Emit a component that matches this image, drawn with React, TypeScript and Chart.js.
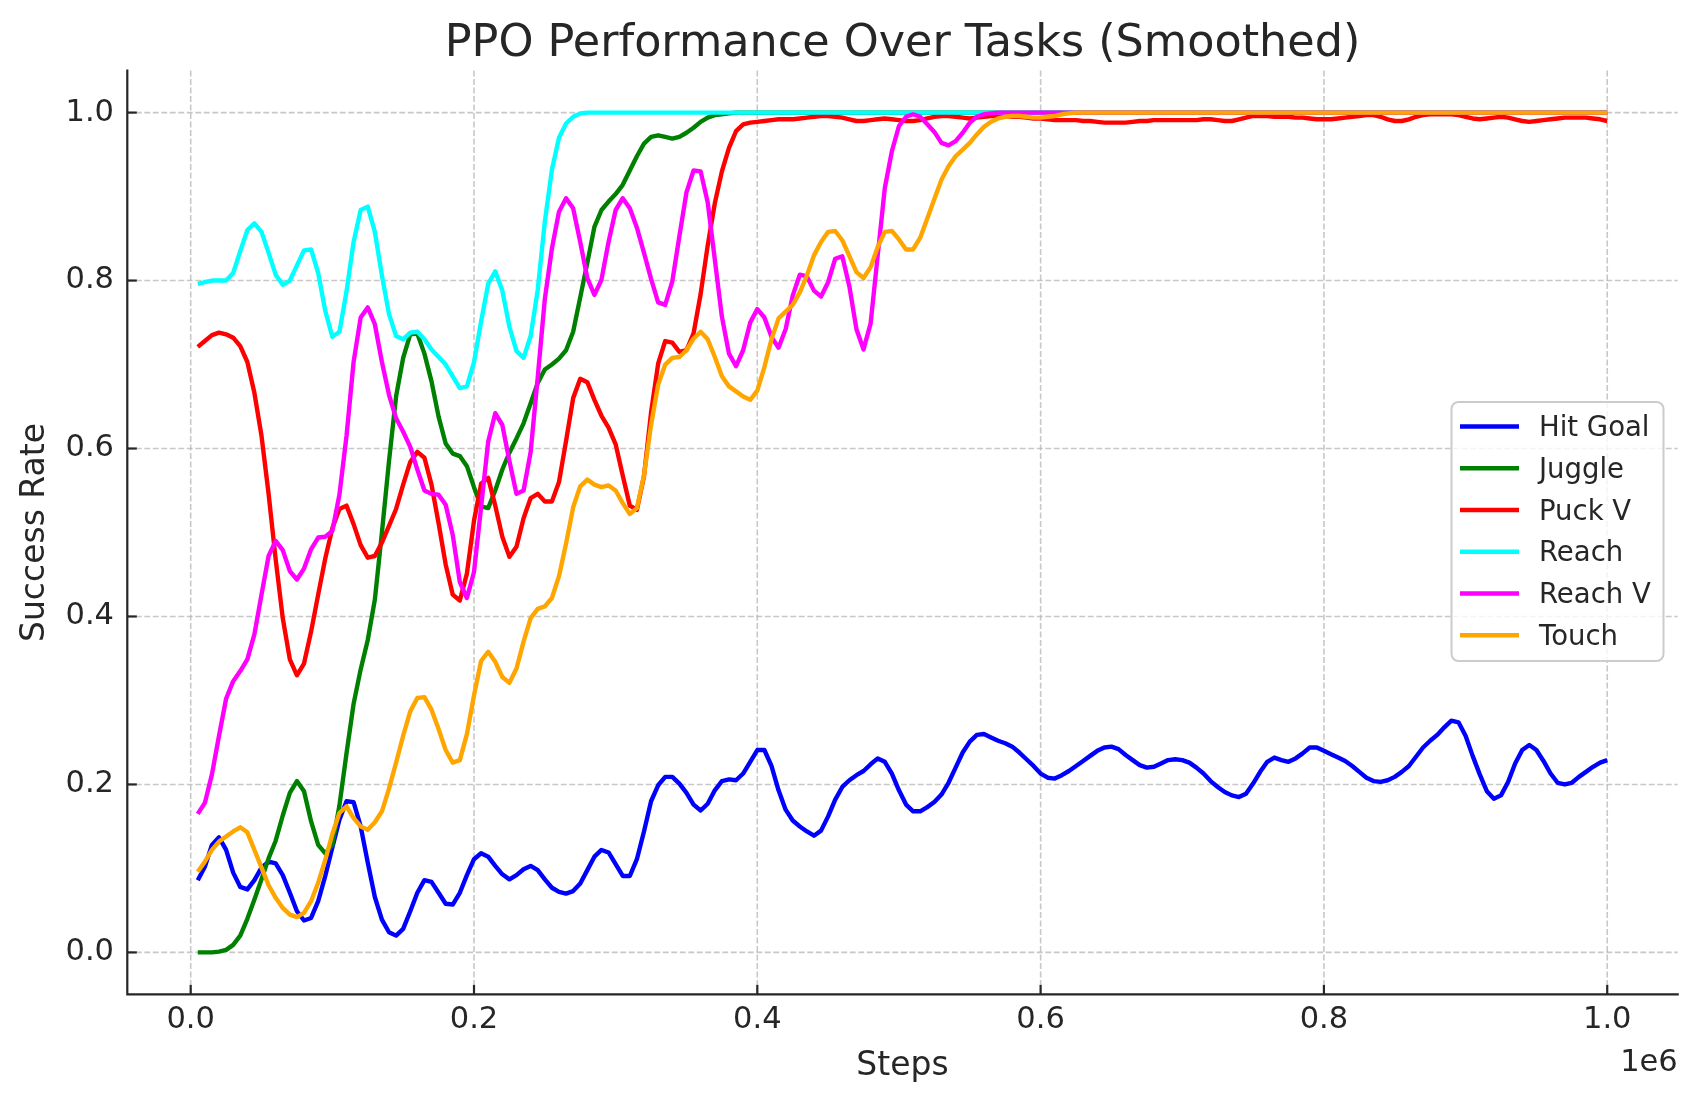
import React, { useEffect, useRef } from "react";
import { Chart, registerables } from "chart.js";

Chart.register(...registerables);

const TITLE = "PPO Performance Over Tasks (Smoothed)";
const X_LABEL = "Steps";
const Y_LABEL = "Success Rate";
const X_OFFSET_LABEL = "1e6";

const STEPS = [
  5000, 10000, 15000, 20000, 25000, 30000, 35000, 40000, 45000, 50000,
  55000, 60000, 65000, 70000, 75000, 80000, 85000, 90000, 95000, 100000,
  105000, 110000, 115000, 120000, 125000, 130000, 135000, 140000, 145000, 150000,
  155000, 160000, 165000, 170000, 175000, 180000, 185000, 190000, 195000, 200000,
  205000, 210000, 215000, 220000, 225000, 230000, 235000, 240000, 245000, 250000,
  255000, 260000, 265000, 270000, 275000, 280000, 285000, 290000, 295000, 300000,
  305000, 310000, 315000, 320000, 325000, 330000, 335000, 340000, 345000, 350000,
  355000, 360000, 365000, 370000, 375000, 380000, 385000, 390000, 395000, 400000,
  405000, 410000, 415000, 420000, 425000, 430000, 435000, 440000, 445000, 450000,
  455000, 460000, 465000, 470000, 475000, 480000, 485000, 490000, 495000, 500000,
  505000, 510000, 515000, 520000, 525000, 530000, 535000, 540000, 545000, 550000,
  555000, 560000, 565000, 570000, 575000, 580000, 585000, 590000, 595000, 600000,
  605000, 610000, 615000, 620000, 625000, 630000, 635000, 640000, 645000, 650000,
  655000, 660000, 665000, 670000, 675000, 680000, 685000, 690000, 695000, 700000,
  705000, 710000, 715000, 720000, 725000, 730000, 735000, 740000, 745000, 750000,
  755000, 760000, 765000, 770000, 775000, 780000, 785000, 790000, 795000, 800000,
  805000, 810000, 815000, 820000, 825000, 830000, 835000, 840000, 845000, 850000,
  855000, 860000, 865000, 870000, 875000, 880000, 885000, 890000, 895000, 900000,
  905000, 910000, 915000, 920000, 925000, 930000, 935000, 940000, 945000, 950000,
  955000, 960000, 965000, 970000, 975000, 980000, 985000, 990000, 995000, 1000000,
];

const HIT_GOAL = [
  0.086, 0.102, 0.128, 0.137, 0.122, 0.095, 0.078, 0.075, 0.086, 0.101,
  0.108, 0.106, 0.092, 0.071, 0.049, 0.038, 0.041, 0.061, 0.091, 0.125,
  0.158, 0.180, 0.179, 0.150, 0.107, 0.066, 0.039, 0.024, 0.020, 0.028,
  0.049, 0.071, 0.086, 0.084, 0.071, 0.058, 0.057, 0.071, 0.092, 0.111,
  0.118, 0.114, 0.103, 0.093, 0.087, 0.092, 0.099, 0.103, 0.098, 0.087,
  0.077, 0.072, 0.070, 0.073, 0.082, 0.098, 0.114, 0.122, 0.119, 0.105,
  0.091, 0.091, 0.111, 0.144, 0.180, 0.199, 0.209, 0.209, 0.201, 0.190,
  0.176, 0.169, 0.177, 0.193, 0.204, 0.206, 0.205, 0.213, 0.227, 0.241,
  0.241, 0.222, 0.193, 0.170, 0.157, 0.150, 0.144, 0.139, 0.145, 0.162,
  0.182, 0.197, 0.205, 0.211, 0.216, 0.224, 0.231, 0.227, 0.213, 0.193,
  0.176, 0.168, 0.168, 0.173, 0.179, 0.188, 0.202, 0.220, 0.238, 0.251,
  0.259, 0.260, 0.256, 0.252, 0.249, 0.245, 0.238, 0.230, 0.222, 0.213,
  0.208, 0.207, 0.211, 0.216, 0.222, 0.228, 0.234, 0.240, 0.244, 0.245,
  0.242, 0.235, 0.229, 0.223, 0.220, 0.221, 0.225, 0.229, 0.230, 0.229,
  0.226, 0.220, 0.213, 0.204, 0.197, 0.191, 0.187, 0.185, 0.189, 0.201,
  0.215, 0.227, 0.232, 0.229, 0.227, 0.231, 0.237, 0.244, 0.244, 0.240,
  0.236, 0.232, 0.228, 0.222, 0.215, 0.208, 0.204, 0.203, 0.205, 0.209,
  0.215, 0.222, 0.233, 0.244, 0.252, 0.259, 0.268, 0.276, 0.274, 0.258,
  0.234, 0.212, 0.192, 0.183, 0.187, 0.203, 0.225, 0.241, 0.247, 0.241,
  0.228, 0.213, 0.202, 0.200, 0.202, 0.209, 0.215, 0.221, 0.226, 0.229,
];

const JUGGLE = [
  0, 0, 0, 0.001, 0.003, 0.009, 0.020, 0.040, 0.063, 0.087,
  0.112, 0.133, 0.163, 0.190, 0.204, 0.192, 0.156, 0.128, 0.118, 0.128,
  0.175, 0.237, 0.296, 0.337, 0.372, 0.420, 0.500, 0.585, 0.662, 0.708,
  0.736, 0.737, 0.713, 0.680, 0.638, 0.606, 0.594, 0.591, 0.579, 0.554,
  0.531, 0.529, 0.550, 0.575, 0.595, 0.612, 0.630, 0.654, 0.678, 0.694,
  0.700, 0.707, 0.717, 0.739, 0.780, 0.821, 0.864, 0.884, 0.894, 0.903,
  0.914, 0.931, 0.948, 0.963, 0.971, 0.973, 0.971, 0.969, 0.971, 0.976,
  0.982, 0.989, 0.994, 0.997, 0.998, 0.999, 1, 1, 1, 1,
  1, 1, 1, 1, 1, 1, 1, 1, 1, 1,
  1, 1, 1, 1, 1, 1, 1, 1, 1, 1,
  1, 1, 1, 1, 1, 1, 1, 1, 1, 1,
  1, 1, 1, 1, 1, 1, 1, 1, 1, 1,
  1, 1, 1, 1, 1, 1, 1, 1, 1, 1,
  1, 1, 1, 1, 1, 1, 1, 1, 1, 1,
  1, 1, 1, 1, 1, 1, 1, 1, 1, 1,
  1, 1, 1, 1, 1, 1, 1, 1, 1, 1,
  1, 1, 1, 1, 1, 1, 1, 1, 1, 1,
  1, 1, 1, 1, 1, 1, 1, 1, 1, 1,
  1, 1, 1, 1, 1, 1, 1, 1, 1, 1,
  1, 1, 1, 1, 1, 1, 1, 1, 1, 1,
];

const PUCK_V = [
  0.721, 0.728, 0.735, 0.738, 0.736, 0.732, 0.722, 0.703, 0.666, 0.615,
  0.546, 0.468, 0.398, 0.349, 0.330, 0.344, 0.382, 0.426, 0.469, 0.505,
  0.528, 0.532, 0.510, 0.485, 0.470, 0.472, 0.488, 0.508, 0.528, 0.557,
  0.584, 0.596, 0.589, 0.557, 0.511, 0.462, 0.426, 0.419, 0.451, 0.514,
  0.558, 0.565, 0.532, 0.495, 0.471, 0.483, 0.517, 0.541, 0.546, 0.537,
  0.537, 0.560, 0.609, 0.660, 0.683, 0.679, 0.658, 0.639, 0.625, 0.605,
  0.568, 0.532, 0.527, 0.567, 0.643, 0.701, 0.728, 0.726, 0.715, 0.717,
  0.737, 0.784, 0.842, 0.892, 0.930, 0.958, 0.978, 0.986, 0.988, 0.989,
  0.990, 0.991, 0.992, 0.992, 0.992, 0.993, 0.994, 0.995, 0.996, 0.996,
  0.995, 0.994, 0.992, 0.990, 0.990, 0.991, 0.992, 0.993, 0.992, 0.991,
  0.990, 0.990, 0.991, 0.993, 0.995, 0.996, 0.996, 0.995, 0.994, 0.993,
  0.994, 0.995, 0.996, 0.996, 0.996, 0.995, 0.995, 0.994, 0.993, 0.993,
  0.992, 0.991, 0.991, 0.991, 0.991, 0.990, 0.990, 0.989, 0.988, 0.988,
  0.988, 0.988, 0.989, 0.990, 0.990, 0.991, 0.991, 0.991, 0.991, 0.991,
  0.991, 0.991, 0.992, 0.992, 0.991, 0.990, 0.990, 0.992, 0.994, 0.996,
  0.996, 0.996, 0.995, 0.995, 0.995, 0.994, 0.994, 0.993, 0.992, 0.992,
  0.992, 0.993, 0.994, 0.995, 0.996, 0.997, 0.997, 0.995, 0.992, 0.990,
  0.990, 0.992, 0.995, 0.997, 0.998, 0.998, 0.998, 0.998, 0.997, 0.995,
  0.993, 0.992, 0.993, 0.994, 0.995, 0.994, 0.992, 0.990, 0.989, 0.990,
  0.991, 0.992, 0.993, 0.994, 0.994, 0.994, 0.994, 0.993, 0.992, 0.990,
];

const REACH = [
  0.796, 0.798, 0.800, 0.800, 0.800, 0.809, 0.835, 0.860, 0.868, 0.858,
  0.833, 0.807, 0.795, 0.800, 0.818, 0.836, 0.837, 0.809, 0.764, 0.733,
  0.739, 0.787, 0.846, 0.884, 0.888, 0.858, 0.806, 0.760, 0.734, 0.730,
  0.738, 0.739, 0.730, 0.718, 0.709, 0.700, 0.686, 0.672, 0.674, 0.703,
  0.751, 0.796, 0.811, 0.788, 0.745, 0.716, 0.708, 0.734, 0.789, 0.870,
  0.932, 0.970, 0.987, 0.995, 0.999, 1, 1, 1, 1, 1,
  1, 1, 1, 1, 1, 1, 1, 1, 1, 1,
  1, 1, 1, 1, 1, 1, 1, 1, 1, 1,
  1, 1, 1, 1, 1, 1, 1, 1, 1, 1,
  1, 1, 1, 1, 1, 1, 1, 1, 1, 1,
  1, 1, 1, 1, 1, 1, 1, 1, 1, 1,
  1, 1, 1, 1, 1, 1, 1, 1, 1, 1,
  1, 1, 1, 1, 1, 1, 1, 1, 1, 1,
  1, 1, 1, 1, 1, 1, 1, 1, 1, 1,
  1, 1, 1, 1, 1, 1, 1, 1, 1, 1,
  1, 1, 1, 1, 1, 1, 1, 1, 1, 1,
  1, 1, 1, 1, 1, 1, 1, 1, 1, 1,
  1, 1, 1, 1, 1, 1, 1, 1, 1, 1,
  1, 1, 1, 1, 1, 1, 1, 1, 1, 1,
  1, 1, 1, 1, 1, 1, 1, 1, 1, 1,
];

const REACH_V = [
  0.165, 0.178, 0.212, 0.258, 0.302, 0.323, 0.335, 0.349, 0.379, 0.426,
  0.472, 0.490, 0.479, 0.454, 0.444, 0.457, 0.480, 0.494, 0.495, 0.502,
  0.545, 0.615, 0.703, 0.756, 0.768, 0.748, 0.703, 0.664, 0.636, 0.620,
  0.602, 0.575, 0.550, 0.546, 0.545, 0.533, 0.497, 0.441, 0.422, 0.453,
  0.530, 0.608, 0.642, 0.628, 0.585, 0.546, 0.550, 0.596, 0.685, 0.778,
  0.838, 0.882, 0.898, 0.886, 0.846, 0.803, 0.783, 0.801, 0.846, 0.884,
  0.898, 0.886, 0.863, 0.833, 0.802, 0.774, 0.771, 0.799, 0.853, 0.905,
  0.931, 0.930, 0.893, 0.825, 0.757, 0.713, 0.698, 0.717, 0.750, 0.766,
  0.756, 0.733, 0.720, 0.742, 0.782, 0.807, 0.805, 0.788, 0.781, 0.798,
  0.826, 0.829, 0.793, 0.742, 0.718, 0.749, 0.830, 0.910, 0.954, 0.984,
  0.995, 0.998, 0.995, 0.986, 0.977, 0.964, 0.961, 0.966, 0.976, 0.988,
  0.995, 0.998, 0.999, 1, 1, 1, 1, 1, 1, 1,
  1, 1, 1, 1, 1, 1, 1, 1, 1, 1,
  1, 1, 1, 1, 1, 1, 1, 1, 1, 1,
  1, 1, 1, 1, 1, 1, 1, 1, 1, 1,
  1, 1, 1, 1, 1, 1, 1, 1, 1, 1,
  1, 1, 1, 1, 1, 1, 1, 1, 1, 1,
  1, 1, 1, 1, 1, 1, 1, 1, 1, 1,
  1, 1, 1, 1, 1, 1, 1, 1, 1, 1,
  1, 1, 1, 1, 1, 1, 1, 1, 1, 1,
];

const TOUCH = [
  0.096, 0.108, 0.122, 0.132, 0.138, 0.144, 0.149, 0.143, 0.122, 0.101,
  0.080, 0.065, 0.053, 0.045, 0.042, 0.047, 0.061, 0.083, 0.110, 0.141,
  0.166, 0.174, 0.160, 0.150, 0.146, 0.155, 0.168, 0.195, 0.226, 0.258,
  0.287, 0.303, 0.304, 0.289, 0.266, 0.241, 0.226, 0.229, 0.260, 0.306,
  0.347, 0.358, 0.346, 0.328, 0.321, 0.338, 0.370, 0.398, 0.409, 0.412,
  0.422, 0.448, 0.487, 0.530, 0.555, 0.563, 0.557, 0.554, 0.556, 0.550,
  0.535, 0.522, 0.529, 0.568, 0.628, 0.676, 0.700, 0.708, 0.709, 0.717,
  0.731, 0.739, 0.730, 0.709, 0.686, 0.674, 0.668, 0.662, 0.658, 0.669,
  0.697, 0.730, 0.755, 0.763, 0.771, 0.786, 0.806, 0.830, 0.846, 0.858,
  0.859, 0.848, 0.829, 0.810, 0.803, 0.816, 0.840, 0.858, 0.859, 0.849,
  0.837, 0.837, 0.851, 0.874, 0.897, 0.920, 0.936, 0.948, 0.956, 0.964,
  0.974, 0.983, 0.989, 0.993, 0.995, 0.996, 0.996, 0.995, 0.994, 0.994,
  0.995, 0.996, 0.998, 0.999, 1, 1, 1, 1, 1, 1,
  1, 1, 1, 1, 1, 1, 1, 1, 1, 1,
  1, 1, 1, 1, 1, 1, 1, 1, 1, 1,
  1, 1, 1, 1, 1, 1, 1, 1, 1, 1,
  1, 1, 1, 1, 1, 1, 1, 1, 1, 1,
  1, 1, 1, 1, 1, 1, 1, 1, 1, 1,
  1, 1, 1, 1, 1, 1, 1, 1, 1, 1,
  1, 1, 1, 1, 1, 1, 1, 1, 1, 1,
];

const SERIES_LABELS = ["Hit Goal", "Juggle", "Puck V", "Reach", "Reach V", "Touch"];
const SERIES_VALUES = [HIT_GOAL, JUGGLE, PUCK_V, REACH, REACH_V, TOUCH];
const SERIES_COLORS = ["#0000ff", "#008000", "#ff0000", "#00ffff", "#ff00ff", "#ffa500"];

const X_TICKS = [0, 200000, 400000, 600000, 800000, 1000000];
const Y_TICKS = [0, 0.2, 0.4, 0.6, 0.8, 1.0];

const FONT = '"DejaVu Sans", "Liberation Sans", sans-serif';
const TEXT_COLOR = "#262626";
const LINE_WIDTH = 4.4;

const decorPlugin = {
  id: "decor",
  beforeDatasetsDraw(chart: any) {
    const { ctx, chartArea, scales } = chart;
    ctx.save();
    ctx.strokeStyle = "rgba(176,176,176,0.7)";
    ctx.lineWidth = 1.6;
    ctx.setLineDash([5.9, 2.6]);
    X_TICKS.forEach((v) => {
      const px = scales.x.getPixelForValue(v);
      ctx.beginPath();
      ctx.moveTo(px, chartArea.top);
      ctx.lineTo(px, chartArea.bottom);
      ctx.stroke();
    });
    Y_TICKS.forEach((v) => {
      const py = scales.y.getPixelForValue(v);
      ctx.beginPath();
      ctx.moveTo(chartArea.left, py);
      ctx.lineTo(chartArea.right, py);
      ctx.stroke();
    });
    ctx.restore();
  },
  afterDraw(chart: any) {
    const { ctx, chartArea, scales } = chart;
    ctx.save();
    // spines
    ctx.strokeStyle = TEXT_COLOR;
    ctx.lineWidth = 2.2;
    ctx.lineCap = "square";
    ctx.beginPath();
    ctx.moveTo(chartArea.left, chartArea.top);
    ctx.lineTo(chartArea.left, chartArea.bottom);
    ctx.lineTo(chartArea.right, chartArea.bottom);
    ctx.stroke();
    // inward ticks
    ctx.lineCap = "butt";
    ctx.lineWidth = 2.2;
    X_TICKS.forEach((v) => {
      const px = scales.x.getPixelForValue(v);
      ctx.beginPath();
      ctx.moveTo(px, chartArea.bottom);
      ctx.lineTo(px, chartArea.bottom - 9.5);
      ctx.stroke();
    });
    Y_TICKS.forEach((v) => {
      const py = scales.y.getPixelForValue(v);
      ctx.beginPath();
      ctx.moveTo(chartArea.left, py);
      ctx.lineTo(chartArea.left + 9.5, py);
      ctx.stroke();
    });
    // title
    ctx.fillStyle = TEXT_COLOR;
    ctx.textAlign = "center";
    ctx.textBaseline = "middle";
    ctx.font = `44.5px ${FONT}`;
    ctx.fillText(TITLE, (chartArea.left + chartArea.right) / 2, 44.5);
    // offset label
    ctx.font = `30.5px ${FONT}`;
    ctx.textAlign = "right";
    ctx.fillText(X_OFFSET_LABEL, chartArea.right, 1063.5);
    // legend
    const bx = 1451.5, by = 402, bw = 212, bh = 259, r = 7;
    ctx.beginPath();
    ctx.moveTo(bx + r, by);
    ctx.lineTo(bx + bw - r, by);
    ctx.arcTo(bx + bw, by, bx + bw, by + r, r);
    ctx.lineTo(bx + bw, by + bh - r);
    ctx.arcTo(bx + bw, by + bh, bx + bw - r, by + bh, r);
    ctx.lineTo(bx + r, by + bh);
    ctx.arcTo(bx, by + bh, bx, by + bh - r, r);
    ctx.lineTo(bx, by + r);
    ctx.arcTo(bx, by, bx + r, by, r);
    ctx.closePath();
    ctx.fillStyle = "rgba(255,255,255,0.8)";
    ctx.fill();
    ctx.strokeStyle = "#cccccc";
    ctx.lineWidth = 2;
    ctx.stroke();
    ctx.font = `27.5px ${FONT}`;
    ctx.textAlign = "left";
    ctx.textBaseline = "middle";
    SERIES_LABELS.forEach((label, i) => {
      const y = 426.5 + i * 41.75;
      ctx.strokeStyle = SERIES_COLORS[i];
      ctx.lineWidth = LINE_WIDTH;
      ctx.beginPath();
      ctx.moveTo(1460, y);
      ctx.lineTo(1519, y);
      ctx.stroke();
      ctx.fillStyle = TEXT_COLOR;
      ctx.fillText(label, 1539, y + 2.5);
    });
    ctx.restore();
  },
};

export default function App() {
  const canvasRef = useRef<HTMLCanvasElement | null>(null);

  useEffect(() => {
    document.body.style.margin = "0";
    const canvas = canvasRef.current;
    if (!canvas) return;
    const datasets = SERIES_LABELS.map((label, i) => ({
      label,
      data: STEPS.map((s, j) => ({ x: s, y: SERIES_VALUES[i][j] })),
      borderColor: SERIES_COLORS[i],
      backgroundColor: SERIES_COLORS[i],
      borderWidth: LINE_WIDTH,
      pointRadius: 0,
      pointHoverRadius: 0,
      tension: 0,
      fill: false,
      borderJoinStyle: "round" as const,
      borderCapStyle: "butt" as const,
      order: SERIES_LABELS.length - 1 - i,
    }));

    const chart = new Chart(canvas, {
      type: "line",
      data: { datasets },
      plugins: [decorPlugin],
      options: {
        animation: false,
        responsive: false,
        maintainAspectRatio: false,
        events: [],
        layout: { padding: { top: 70.6, right: 19.3, bottom: 0, left: 0 } },
        plugins: {
          legend: { display: false },
          title: { display: false },
          tooltip: { enabled: false },
        },
        scales: {
          x: {
            type: "linear",
            min: -44750,
            max: 1049750,
            afterBuildTicks: (scale: any) => {
              scale.ticks = X_TICKS.map((v) => ({ value: v }));
            },
            afterFit: (scale: any) => {
              scale.height = 106.6;
            },
            grid: { display: false, drawTicks: false },
            border: { display: false },
            ticks: {
              autoSkip: false,
              maxRotation: 0,
              padding: 7.6,
              color: TEXT_COLOR,
              font: { family: FONT, size: 30.5, lineHeight: 1.2 },
              callback: (v: any) => (Number(v) / 1e6).toFixed(1),
            },
            title: {
              display: true,
              text: X_LABEL,
              color: TEXT_COLOR,
              font: { family: FONT, size: 33, lineHeight: 1.2 },
              padding: { top: 0, bottom: 15.2 },
            },
          },
          y: {
            type: "linear",
            min: -0.05,
            max: 1.05,
            afterBuildTicks: (scale: any) => {
              scale.ticks = Y_TICKS.map((v) => ({ value: v }));
            },
            afterFit: (scale: any) => {
              scale.width = 127.3;
            },
            grid: { display: false, drawTicks: false },
            border: { display: false },
            ticks: {
              autoSkip: false,
              padding: 13.3,
              color: TEXT_COLOR,
              font: { family: FONT, size: 30.5, lineHeight: 1.2 },
              callback: (v: any) => Number(v).toFixed(1),
            },
            title: {
              display: true,
              text: Y_LABEL,
              color: TEXT_COLOR,
              font: { family: FONT, size: 33, lineHeight: 1.2 },
              padding: { top: 15.4, bottom: 0 },
            },
          },
        },
      },
    } as any);

    return () => {
      chart.destroy();
    };
  }, []);

  return (
    <div style={{ position: "absolute", left: 0, top: 0, width: 1697, height: 1101, background: "#ffffff" }}>
      <canvas ref={canvasRef} width={1697} height={1101} style={{ display: "block", width: 1697, height: 1101 }} />
    </div>
  );
}
